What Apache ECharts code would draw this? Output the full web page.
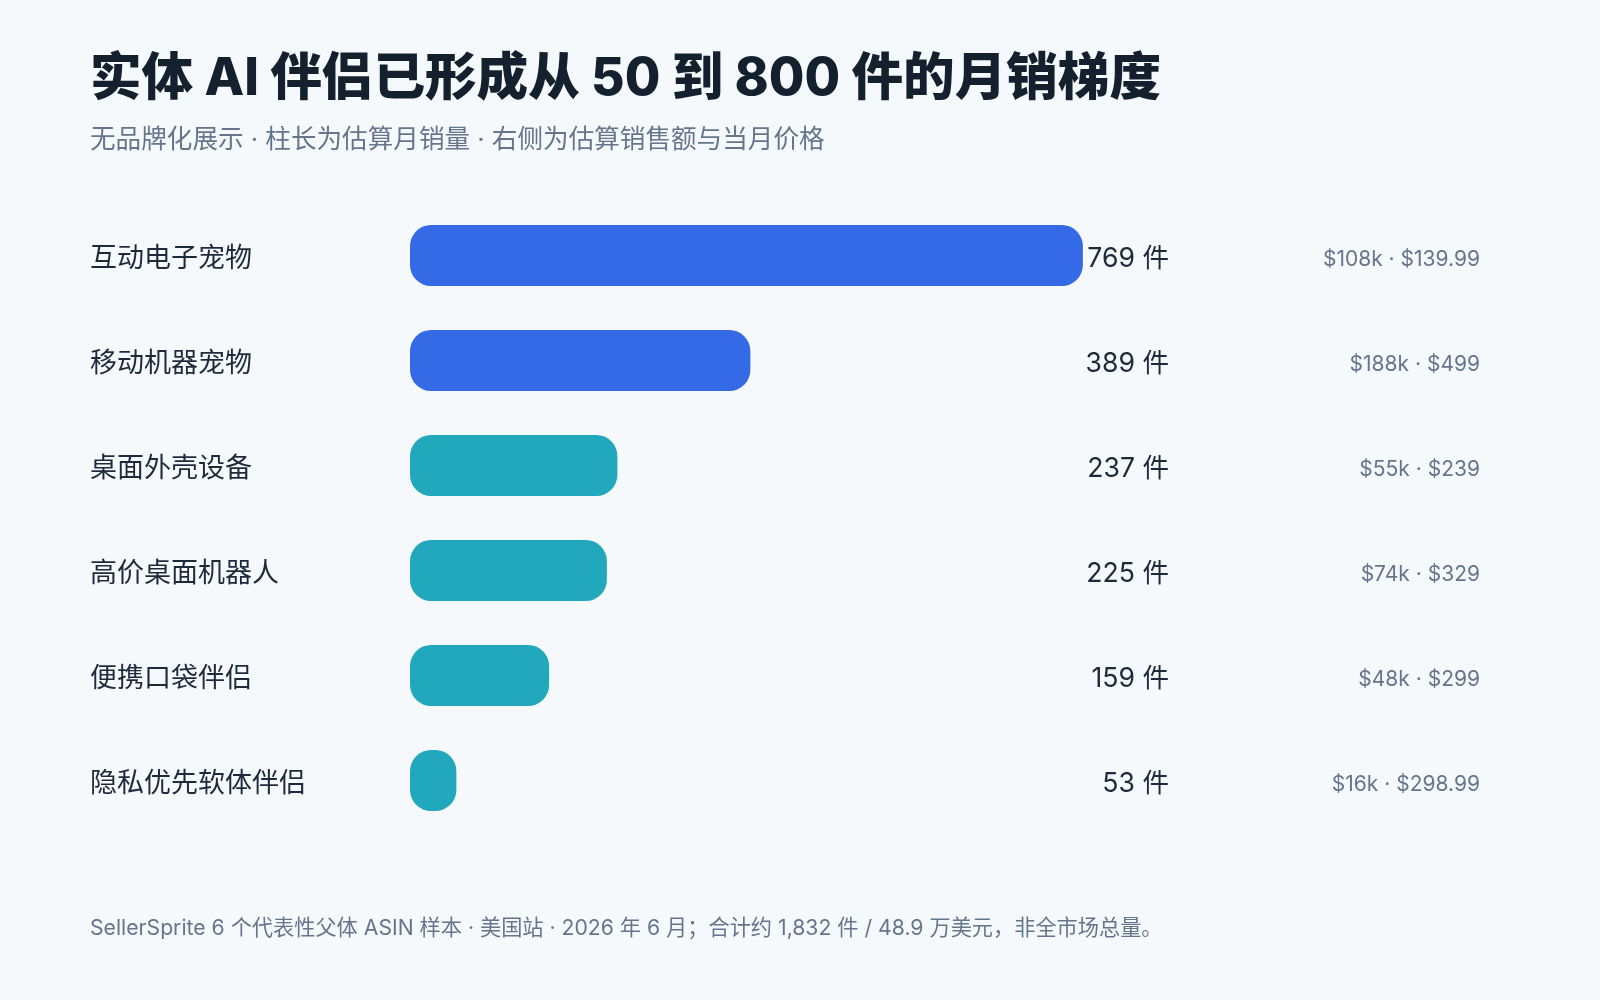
<!DOCTYPE html>
<html>
<head>
<meta charset="utf-8">
<script src="https://cdn.jsdelivr.net/npm/echarts@6/dist/echarts.min.js"></script>
<style>
html,body{margin:0;padding:0;background:#F6F9FC;}
#chart{width:1600px;height:1000px;}
</style>
</head>
<body>
<div id="chart"></div>
<script>
const titleText = '实体 AI 伴侣已形成从 50 到 800 件的月销梯度';
const subtitleText = '无品牌化展示 · 柱长为估算月销量 · 右侧为估算销售额与当月价格';
const footerText = 'SellerSprite 6 个代表性父体 ASIN 样本 · 美国站 · 2026 年 6 月；合计约 1,832 件 / 48.9 万美元，非全市场总量。';
const categories = ['互动电子宠物', '移动机器宠物', '桌面外壳设备', '高价桌面机器人', '便携口袋伴侣', '隐私优先软体伴侣'];
const units = [769, 389, 237, 225, 159, 53];
const revenue = ['$108k', '$188k', '$55k', '$74k', '$48k', '$16k'];
const prices = ['$139.99', '$499', '$239', '$329', '$299', '$298.99'];
const unitSuffix = ' 件';

const FONT = 'Inter, "Noto Sans CJK SC", sans-serif';
const BLUE = '#356AE6';
const TEAL = '#22A8BD';

const chart = echarts.init(document.getElementById('chart'));
chart.setOption({
  backgroundColor: '#F6F9FC',
  title: [
    {
      text: titleText, left: 90, top: 47, padding: 0,
      textStyle: { fontFamily: FONT, fontSize: 51.6, fontWeight: 800, color: '#15202F', lineHeight: 64 }
    },
    {
      text: subtitleText, left: 90, top: 124, padding: 0,
      textStyle: { fontFamily: FONT, fontSize: 25.6, fontWeight: 400, color: '#66758C', lineHeight: 32 }
    },
    {
      text: footerText, left: 90, top: 916, padding: 0,
      textStyle: { fontFamily: FONT, fontSize: 21.2, fontWeight: 400, color: '#66758C', lineHeight: 26 }
    }
  ],
  grid: { left: 410, right: 490, top: 203, height: 630 },
  xAxis: { type: 'value', min: 0, max: 800, show: false },
  yAxis: [
    {
      type: 'category', data: categories, inverse: true, position: 'left',
      axisLine: { show: false }, axisTick: { show: false }, splitLine: { show: false },
      axisLabel: { align: 'left', verticalAlign: 'top', lineHeight: 6, margin: 320, fontFamily: FONT, fontSize: 27, color: '#1E293B' }
    },
    {
      type: 'category', data: units.map(v => v + unitSuffix), inverse: true, position: 'right',
      axisLine: { show: false }, axisTick: { show: false }, splitLine: { show: false },
      axisLabel: { align: 'right', verticalAlign: 'top', lineHeight: 6, margin: 59, fontFamily: FONT, fontSize: 26.6, color: '#1E293B' }
    },
    {
      type: 'category', data: revenue.map((r, i) => r + ' · ' + prices[i]), inverse: true,
      position: 'right', offset: 311,
      axisLine: { show: false }, axisTick: { show: false }, splitLine: { show: false },
      axisLabel: { align: 'right', verticalAlign: 'top', lineHeight: 8, margin: 59, fontFamily: FONT, fontSize: 21, color: '#66758C' }
    }
  ],
  series: [{
    type: 'bar',
    data: units.map((v, i) => ({ value: v, itemStyle: { color: i < 2 ? BLUE : TEAL } })),
    barWidth: 61,
    itemStyle: { borderRadius: 21 },
    silent: true,
    animation: false
  }],
  animation: false
});
</script>
</body>
</html>
